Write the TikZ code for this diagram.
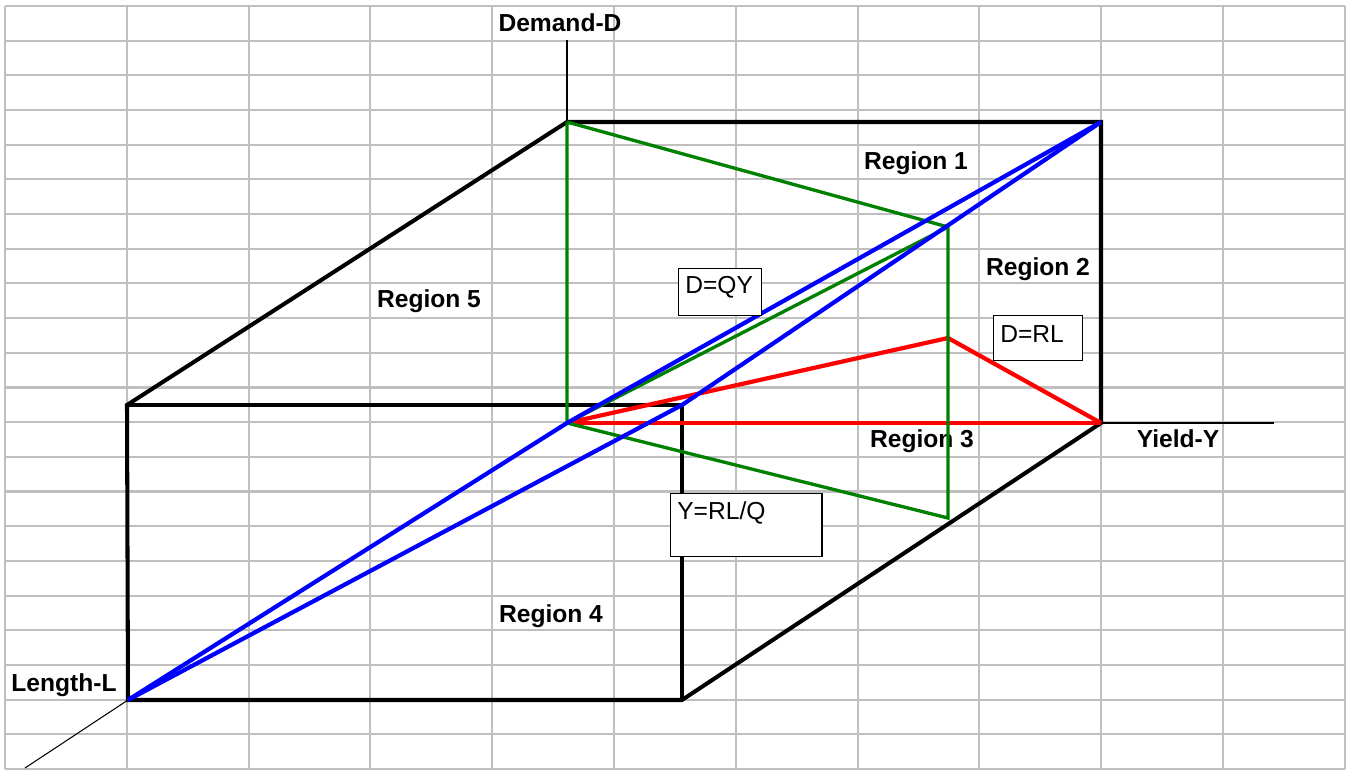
\documentclass[tikz,border=0pt]{standalone}
\usepackage{fontspec}
\setmainfont{Liberation Sans}
\usepackage{tikz}
\usetikzlibrary{calc, positioning}

\tikzset{
    gridline/.style={draw=gray!50, line width=1.2pt},
    boxedge/.style={line width=2.3pt},
    axisline/.style={line width=0.6pt},
    lbl/.style={anchor=base, font=\fontsize{14}{16}\selectfont\bfseries},
    eqbox/.style={draw, line width=0.7pt, fill=white, anchor=north west,
        inner xsep=3.8pt, inner ysep=0pt, align=left,
        font=\fontsize{14}{16}\selectfont}
}

\begin{document}
\begin{tikzpicture}[x=0.02cm, y=-0.02cm]
    \useasboundingbox (0,0) rectangle (1350,770);
    % Vẽ lưới
    \foreach \i in {0,...,11} {
        \draw[gridline] ({5+121.8*\i},6) -- ({5+121.8*\i},769);
    }
    \foreach \j in {0,...,22} {
        \draw[gridline] (5,{6+34.68*\j}) -- (1345,{6+34.68*\j});
    }

    % Các đỉnh của hình hộp
    \coordinate (O) at (567,423);
    \coordinate (D) at (567,122);
    \coordinate (Dend) at (567,40);
    \coordinate (Y) at (1101,423);
    \coordinate (Yend) at (1274,423);
    \coordinate (DY) at (1101,122);
    \coordinate (L) at (128,700);
    \coordinate (Lend) at (25,768);
    \coordinate (LD) at (127,405);
    \coordinate (LY) at (682,700);
    \coordinate (LDY) at (682,405);
    \coordinate (G1) at (948,227);
    \coordinate (G2) at (948,518);
    \coordinate (R1) at (948,338);

    % Nhãn các vùng
    \node[lbl] (reg1) at (916,170) {Region 1};
    \node[lbl] (reg2) at (1038,276) {Region 2};
    \node[lbl] (reg3) at (922,447) {Region 3};
    \node[lbl] (reg4) at (551,622) {Region 4};
    \node[lbl] (reg5) at (429,308) {Region 5};

    % Vẽ hệ trục
    \draw[axisline] (D) -- (Dend);
    \draw[axisline] (O) -- (Yend);
    \draw[axisline] (L) -- (Lend);
    \node[lbl] (dlab) at (560,32) {Demand-D};
    \node[lbl] (ylab) at (1178,447) {Yield-Y};
    \node[lbl] (llab) at (64,691) {Length-L};

    % Vẽ hình hộp
    \draw[boxedge] (LD) -- (D) -- (DY) -- (Y) -- (LY) -- (L) -- cycle;
    \draw[boxedge] (LD) -- (LDY) -- (LY);

    % Các mặt cắt
    \draw[red, line width=2.4pt] (O) -- (Y);
    \draw[red, line width=2.4pt] (O) -- (R1) -- (Y);
    \draw[green!50!black, line width=1.9pt] (D) -- (O) -- (G2) -- (G1) -- (D);
    \draw[green!50!black, line width=1.9pt] (O) -- (G1);
    \draw[blue, line width=2.4pt] (L) -- (O) -- (DY);
    \draw[blue, line width=2.4pt] (L) -- (LDY) -- (DY);

    % Các hộp công thức
    \node[eqbox, text width=39.5pt, text height=14.2pt, text depth=12.4pt]
        (qy) at (678,268) {D=QY};
    \node[eqbox, text width=42.9pt, text height=15.3pt, text depth=10.2pt]
        (rl) at (993,315) {D=RL};
    \node[eqbox, text width=78.6pt, text height=14.7pt, text depth=21pt]
        (rlq) at (670,493) {Y=RL/Q};
\end{tikzpicture}
\end{document}
